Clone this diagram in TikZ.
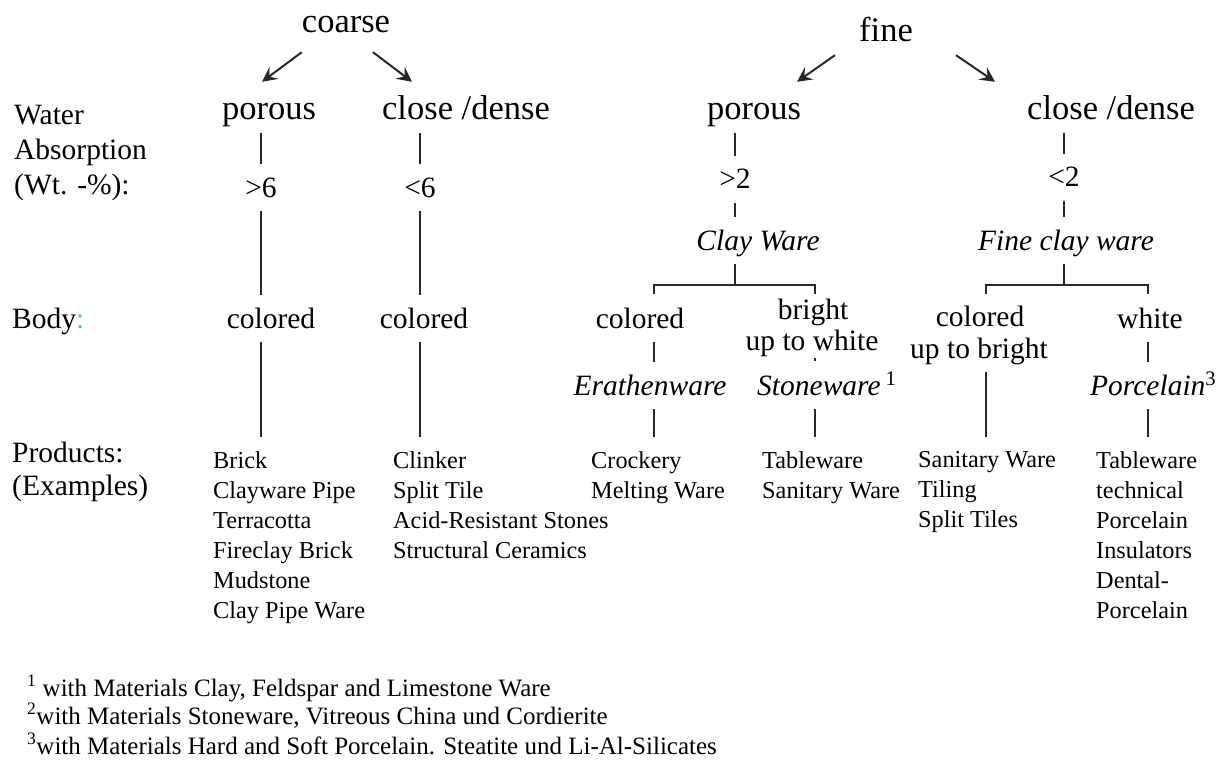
\documentclass[tikz,border=0pt]{standalone}
\usepackage{fontspec}
\setmainfont{Liberation Serif}
\usetikzlibrary{arrows.meta}
\definecolor{colontint}{RGB}{70,200,190}
\definecolor{inkline}{RGB}{40,40,40}

\tikzset{
  big/.style={font=\fontsize{34.5}{40}\selectfont, inner sep=0pt, text height=36pt, text depth=13pt},
  mid/.style={font=\fontsize{29.5}{35}\selectfont, inner sep=0pt, text height=33pt, text depth=14pt},
  midit/.style={mid, font=\fontsize{29.5}{35}\selectfont\itshape},
  side/.style={font=\fontsize{29.5}{35}\selectfont, inner sep=0pt, anchor=base west},
  plist/.style={font=\fontsize{24.3}{30}\selectfont, inner sep=0pt, align=left, anchor=north west},
  foot/.style={font=\fontsize{25}{29}\selectfont, inner sep=0pt, anchor=base west},
  link/.style={draw=inkline, line width=1.8pt},
  tolist/.style={link, shorten >=14.5pt},
  arr/.style={draw=inkline, line width=2pt, -{Stealth[length=15pt,width=15pt,inset=6pt]}},
}

\begin{document}
\begin{tikzpicture}[x=1pt,y=-1pt]
  \useasboundingbox (0,0) rectangle (1231,762);
  % row labels
  \node[side] (water) at (14,125) {Water};
  \node[side] (absorp) at (14,160) {Absorption};
  \node[side] (wt) at (14,195) {(Wt. -\%):};
  \node[side] (body) at (12,328) {Body\textcolor{colontint}{:}};
  \node[side] (prod) at (12,462) {Products:};
  \node[side] (examp) at (12,495) {(Examples)};

  % top of the tree
  \node[big, anchor=base] (coarse) at (346,33) {coarse};
  \node[big, anchor=base] (fine) at (886,42) {fine};
  \node[big, anchor=base] (cpor) at (269,120) {porous};
  \node[big, anchor=base] (cden) at (466,120) {close /dense};
  \node[big, anchor=base] (fpor) at (754,120) {porous};
  \node[big, anchor=base] (fden) at (1111,120) {close /dense};
  \draw[arr] ([yshift=-6pt]coarse.south west) -- ([xshift=-7pt,yshift=2pt]cpor.north);
  \draw[arr] ([xshift=27pt,yshift=-6pt]coarse.south) -- ([xshift=-54pt,yshift=2pt]cden.north);
  \draw[arr] ([xshift=-24pt]fine.south west) -- ([xshift=43pt,yshift=2pt]fpor.north);
  \draw[arr] ([xshift=43pt]fine.south east) -- ([xshift=-116pt,yshift=2pt]fden.north);

  % water absorption
  \node[mid, anchor=base] (cpv) at (261,197) {>6};
  \node[mid, anchor=base] (cdv) at (420,197) {<6};
  \node[mid, anchor=base] (fpv) at (735,189) {>2};
  \node[mid, anchor=base] (fdv) at (1064,187) {<2};
  \node[midit, anchor=base] (clayw) at (758,250) {Clay Ware};
  \node[midit, anchor=base] (fcw) at (1066,250) {Fine clay ware};
  \coordinate (fpL) at (654,285);
  \coordinate (fpR) at (815,285);
  \coordinate (fdL) at (986,285);
  \coordinate (fdR) at (1148,285);

  % body
  \node[mid, anchor=base] (cpcol) at (271,328) {colored};
  \node[mid, anchor=base] (cdcol) at (424,328) {colored};
  \node[mid, anchor=base] (fpcol) at (640,328) {colored};
  \node[mid, anchor=base] (bright) at (813,319) {bright};
  \node[mid, anchor=base] (upw) at (812,350) {up to white};
  \node[mid, anchor=base] (fdcol) at (980,326) {colored};
  \node[mid, anchor=base] (upb) at (979,358) {up to bright};
  \node[mid, anchor=base] (white) at (1150,328) {white};
  \node[midit, anchor=base] (earth) at (650,395) {Erathenware};
  \node[mid, anchor=base west] (stone) at (757,395) {\textit{Stoneware}\,\textsuperscript{1}};
  \node[mid, anchor=base west] (porc) at (1090,395) {\textit{Porcelain}\textsuperscript{3}};

  % products
  \node[plist] (cplist) at (213,451) {Brick\\Clayware Pipe\\Terracotta\\Fireclay Brick\\Mudstone\\Clay Pipe Ware};
  \node[plist] (cdlist) at (393,451) {Clinker\\Split Tile\\Acid-Resistant Stones\\Structural Ceramics};
  \node[plist] (eplist) at (591,451) {Crockery\\Melting Ware};
  \node[plist] (stlist) at (762,451) {Tableware\\Sanitary Ware};
  \node[plist] (sblist) at (918,451) {Sanitary Ware\\Tiling\\Split Tiles};
  \node[plist] (pclist) at (1096,451) {Tableware\\technical\\Porcelain\\Insulators\\Dental-\\Porcelain};

  % coarse branches
  \draw[link] (cpor.south -| cpv) -- (cpv.north);
  \draw[link] (cpv.south) -- (cpcol.north -| cpv);
  \draw[tolist] (cpcol.south -| cpv) -- (cplist.north -| cpv);
  \draw[link] (cden.south -| cdv) -- (cdv.north);
  \draw[link] (cdv.south) -- (cdcol.north -| cdv);
  \draw[tolist] (cdcol.south -| cdv) -- (cdlist.north -| cdv);

  % fine, porous
  \draw[link] (fpor.south -| fpv) -- (fpv.north);
  \draw[link] (fpv.south) -- (clayw.north -| fpv);
  \draw[link] (clayw.south -| fpv) -- (fpv |- fpL);
  \draw[link] ([yshift=-9pt]fpL) -- (fpL) -- (fpR) -- ([yshift=-9pt]fpR);
  \draw[link] (fpcol.south -| fpL) -- (earth.north -| fpL);
  \draw[tolist] (earth.south -| fpL) -- (eplist.north -| fpL);
  \draw[link] ([yshift=-8pt]upw.base -| fpR) -- ([yshift=-11pt]upw.base -| fpR);
  \draw[tolist] (stone.south -| fpR) -- (stlist.north -| fpR);

  % fine, close/dense
  \draw[link] (fden.south -| fdv) -- (fdv.north);
  \draw[link] (fdv.south) -- (fcw.north -| fdv);
  \draw[link] (fcw.south -| fdv) -- (fdv |- fdL);
  \draw[link] ([yshift=-9pt]fdL) -- (fdL) -- (fdR) -- ([yshift=-9pt]fdR);
  \draw[tolist] (upb.south -| fdL) -- (sblist.north -| fdL);
  \draw[link] (white.south -| fdR) -- (porc.north -| fdR);
  \draw[tolist] (porc.south -| fdR) -- (pclist.north -| fdR);

  % footnotes
  \node[foot] (fn1) at (27,696) {\textsuperscript{1} with Materials Clay, Feldspar and Limestone Ware};
  \node[foot] (fn2) at (27,724) {\textsuperscript{2}with Materials Stoneware, Vitreous China und Cordierite};
  \node[foot] (fn3) at (27,754) {\textsuperscript{3}with Materials Hard and Soft Porcelain. Steatite und Li-Al-Silicates};
\end{tikzpicture}
\end{document}
